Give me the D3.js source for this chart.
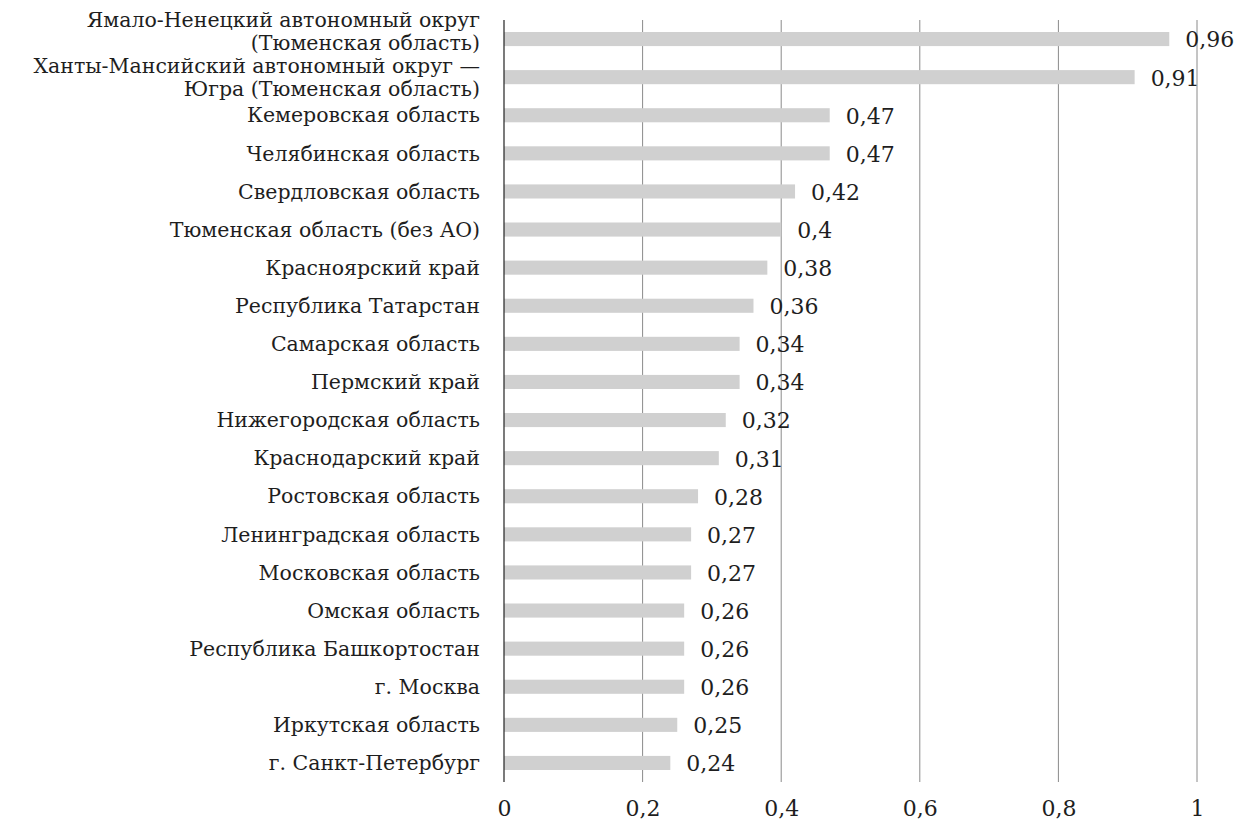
<!DOCTYPE html>
<html>
<head>
<meta charset="utf-8">
<script src="https://cdn.jsdelivr.net/npm/d3@7"></script>
<style>
  body { margin: 0; background: #fff; }
  text { font-family: 'DejaVu Serif', serif; fill: #1e1e1e; }
</style>
</head>
<body>
<script>
const width = 1237
const height = 823

const regions = [
  ['Ямало-Ненецкий автономный округ', '(Тюменская область)'],
  ['Ханты-Мансийский автономный округ —', 'Югра (Тюменская область)'],
  ['Кемеровская область'],
  ['Челябинская область'],
  ['Свердловская область'],
  ['Тюменская область (без АО)'],
  ['Красноярский край'],
  ['Республика Татарстан'],
  ['Самарская область'],
  ['Пермский край'],
  ['Нижегородская область'],
  ['Краснодарский край'],
  ['Ростовская область'],
  ['Ленинградская область'],
  ['Московская область'],
  ['Омская область'],
  ['Республика Башкортостан'],
  ['г. Москва'],
  ['Иркутская область'],
  ['г. Санкт-Петербург']
]
const values = [0.96, 0.91, 0.47, 0.47, 0.42, 0.4, 0.38, 0.36, 0.34, 0.34,
  0.32, 0.31, 0.28, 0.27, 0.27, 0.26, 0.26, 0.26, 0.25, 0.24]
const ticks = [0, 0.2, 0.4, 0.6, 0.8, 1]

const margin = { top: 20, right: 40, bottom: 41, left: 504 }
const fontSize = 20.5
const numSize = 22

const svg = d3.select('body')
  .append('svg')
  .attr('width', width)
  .attr('height', height)

const x = d3.scaleLinear().domain([0, 1]).range([margin.left, 1197])
const y = d3.scaleBand()
  .domain(d3.range(values.length))
  .range([margin.top, height - margin.bottom])
  .paddingInner(0.63)
  .paddingOuter(0.315)

const fmt = (v) => String(v).replace('.', ',')

// gridlines
svg.append('g')
  .selectAll('line')
  .data(ticks.slice(1))
  .join('line')
  .attr('x1', (d) => x(d))
  .attr('x2', (d) => x(d))
  .attr('y1', margin.top)
  .attr('y2', height - margin.bottom)
  .attr('stroke', '#8a8a8a')
  .attr('stroke-width', 1)

// bars
svg.append('g')
  .selectAll('rect')
  .data(values)
  .join('rect')
  .attr('x', x(0))
  .attr('y', (d, i) => y(i))
  .attr('width', (d) => x(d) - x(0))
  .attr('height', y.bandwidth())
  .attr('fill', '#d0d0d0')

// zero axis
svg.append('line')
  .attr('x1', x(0))
  .attr('x2', x(0))
  .attr('y1', margin.top)
  .attr('y2', height - margin.bottom)
  .attr('stroke', '#222')
  .attr('stroke-width', 1.2)

// value labels
svg.append('g')
  .selectAll('text')
  .data(values)
  .join('text')
  .attr('x', (d) => x(d) + 16)
  .attr('y', (d, i) => y(i) + y.bandwidth() / 2)
  .attr('dy', '0.38em')
  .attr('font-size', numSize)
  .text((d) => fmt(d))

// category labels; the first wrapped label hangs from the top of the plot
const lineH = 23
const cat = svg.append('g')
  .selectAll('text')
  .data(regions)
  .join('text')
  .attr('x', margin.left - 24)
  .attr('y', (d, i) => {
    const c = y(i) + y.bandwidth() / 2
    if (d.length === 1) return c
    return i === 0 ? margin.top : c - lineH / 2
  })
  .attr('text-anchor', 'end')
  .attr('font-size', fontSize)

cat.selectAll('tspan')
  .data((d) => d.map((line, k) => ({ line, k })))
  .join('tspan')
  .attr('x', margin.left - 24)
  .attr('dy', (d) => d.k === 0 ? '0.35em' : lineH)
  .text((d) => d.line)

// x tick labels
const axis = svg.append('g')
  .attr('transform', `translate(0, ${height - 7})`)
  .call(d3.axisBottom(x).tickValues(ticks).tickSize(0).tickFormat(fmt))
axis.select('.domain').remove()
axis.selectAll('text')
  .attr('font-size', numSize)
  .attr('font-family', "'DejaVu Serif', serif")
  .attr('fill', '#1e1e1e')
  .attr('dy', 0)
  .attr('y', 0)
</script>
</body>
</html>
